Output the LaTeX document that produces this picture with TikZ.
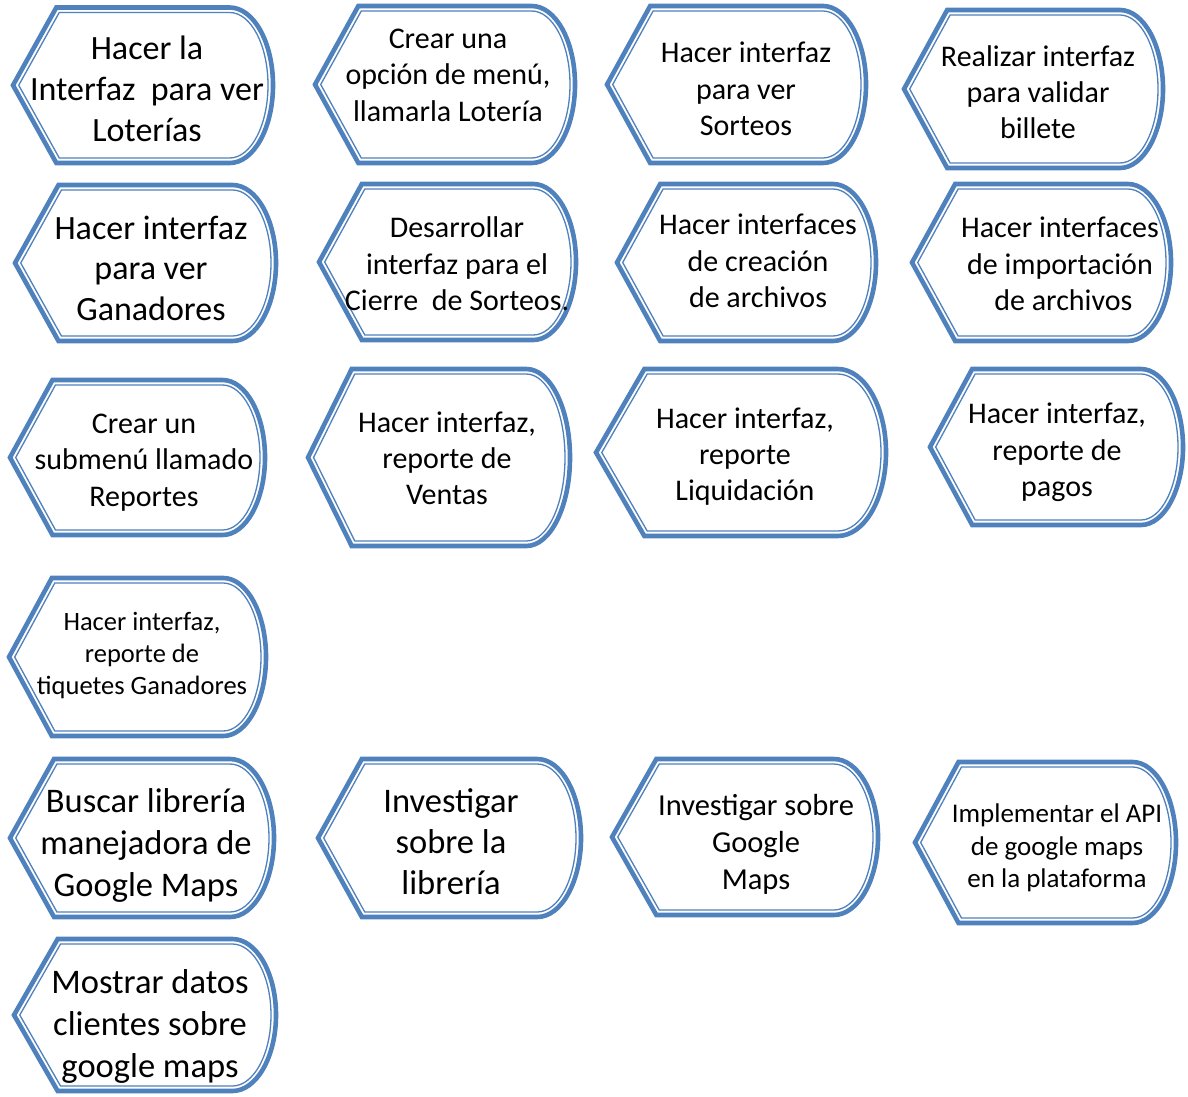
\documentclass[tikz,border=0pt]{standalone}
\usepackage{fontspec}
\setmainfont{Carlito}
\definecolor{accentblue}{RGB}{79,129,189}
\tikzset{
  outerline/.style={draw=accentblue, line width=4.6pt, fill=white, line join=miter},
  innerline/.style={draw=accentblue, line width=1.3pt, line join=miter},
  tasktext/.style={align=center, inner sep=0pt, text depth=0pt, text=black},
}
% Display-style flowchart outline (thick-thin double border).
% Arguments: left, top, right, bottom (measured downwards from the top edge).
\newcommand\displayshape[4]{%
  \pgfmathsetmacro\rx{(#3-#1)/6}%
  \pgfmathsetmacro\ry{(#4-#2)/2}%
  \pgfmathsetmacro\yc{(#2+#4)/2}%
  \pgfmathsetmacro\dd{5}%
  \pgfmathsetmacro\tipin{\dd*sqrt(\rx*\rx+\ry*\ry)/\ry}%
  \pgfmathsetmacro\rxin{\rx-\dd*\rx/\ry}%
  \pgfmathsetmacro\rxe{\rx-\dd}%
  \pgfmathsetmacro\rye{\ry-\dd}%
  \pgfmathsetmacro\xtop{#3-\rx}%
  \pgfmathsetmacro\xin{#1+\tipin}%
  \pgfmathsetmacro\xinc{#1+\tipin+\rxin}%
  \pgfmathsetmacro\ytin{#2+\dd}%
  \pgfmathsetmacro\ybin{#4-\dd}%
  \draw[outerline] (#1,-\yc) -- (#1+\rx,-#2) -- (\xtop,-#2)
    arc[start angle=90,end angle=-90,x radius=\rx,y radius=\ry]
    -- (#1+\rx,-#4) -- cycle;
  \draw[innerline] (\xin,-\yc) -- (\xinc,-\ytin) -- (\xtop,-\ytin)
    arc[start angle=90,end angle=-90,x radius=\rxe,y radius=\rye]
    -- (\xinc,-\ybin) -- cycle;
}
\newcommand\fs[2]{\fontsize{#1}{#2}\selectfont}
\begin{document}
\begin{tikzpicture}[x=1pt,y=1pt]
\useasboundingbox (0,0) rectangle (1188,-1097);

% outlines
\displayshape{13}{7.5}{273}{163}
\displayshape{315}{6}{575}{163}
\displayshape{607}{6}{866}{163}
\displayshape{904}{10}{1163}{168}
\displayshape{15}{185}{276}{341}
\displayshape{319}{184}{576}{340}
\displayshape{617}{184}{876}{341}
\displayshape{912}{184}{1171}{341}
\displayshape{10}{380}{265}{535}
\displayshape{308}{369}{570}{546}
\displayshape{596}{369}{886}{536}
\displayshape{930}{369}{1183}{525}
\displayshape{9}{578}{266}{736}
\displayshape{10}{759}{274}{917}
\displayshape{318}{759}{581}{917}
\displayshape{612}{759}{878}{915}
\displayshape{915}{762}{1176}{923}
\displayshape{14}{939}{276}{1091}

% labels
\node[tasktext, font=\fs{34}{41}] (t1) at (147,-89) {Hacer la\\Interfaz\ \ para ver\\Loterías};
\node[tasktext, font=\fs{30}{36.5}] (t2) at (448,-75) {Crear una\\opción de menú,\\llamarla Lotería};
\node[tasktext, font=\fs{30}{36.5}] (t3) at (746,-89) {Hacer interfaz\\para ver\\Sorteos};
\node[tasktext, font=\fs{30}{36}] (t4) at (1038,-92) {Realizar interfaz\\para validar\\billete};
\node[tasktext, font=\fs{34}{40.5}] (t5) at (151,-268) {Hacer interfaz\\para ver\\Ganadores};
\node[tasktext, font=\fs{30}{36.5}] (t6) at (457,-264) {Desarrollar\\interfaz para el\\Cierre\ \ de Sorteos.};
\node[tasktext, font=\fs{30}{36.5}] (t7) at (758,-261) {Hacer interfaces\\de creación\\de archivos};
\node[tasktext, font=\fs{30}{36.5}] (t8) at (1060,-264) {Hacer interfaces\\de importación\\\ de archivos};
\node[tasktext, font=\fs{30}{36.5}] (t9) at (144,-460) {Crear un\\submenú llamado\\Reportes};
\node[tasktext, font=\fs{30}{36}] (t10) at (447,-458) {Hacer interfaz,\\reporte de\\Ventas};
\node[tasktext, font=\fs{30}{36}] (t11) at (745,-454) {Hacer interfaz,\\reporte\\Liquidación};
\node[tasktext, font=\fs{30}{36.5}] (t12) at (1057,-450) {Hacer interfaz,\\reporte de\\pagos};
\node[tasktext, font=\fs{26.5}{32}] (t13) at (142,-653) {Hacer interfaz,\\reporte de\\tiquetes Ganadores};
\node[tasktext, font=\fs{34.5}{42}] (t14) at (146,-843) {Buscar librería\\manejadora de\\Google Maps};
\node[tasktext, font=\fs{34.5}{41}] (t15) at (451,-842) {Investigar\\sobre la\\librería};
\node[tasktext, font=\fs{30.5}{37}] (t16) at (756,-842) {Investigar sobre\\Google\\Maps};
\node[tasktext, font=\fs{27}{32.5}] (t17) at (1057,-846) {Implementar el API\\de google maps\\en la plataforma};
\node[tasktext, font=\fs{34.5}{42}] (t18) at (150,-1024) {Mostrar datos\\clientes sobre\\google maps};
\end{tikzpicture}
\end{document}
